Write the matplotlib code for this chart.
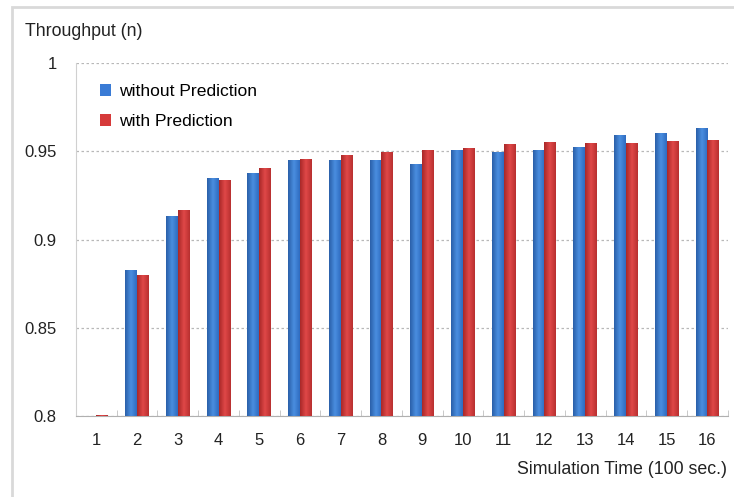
import numpy as np
import matplotlib
matplotlib.use("Agg")
import matplotlib.pyplot as plt
from matplotlib.patches import Rectangle
from matplotlib.colors import LinearSegmentedColormap

# data
times = [str(i) for i in range(1, 17)]
without_pred = [0.8000, 0.8830, 0.9136, 0.9347, 0.9375, 0.9450, 0.9450, 0.9450,
                0.9430, 0.9510, 0.9498, 0.9510, 0.9527, 0.9595, 0.9606, 0.9632]
with_pred = [0.8006, 0.8800, 0.9170, 0.9335, 0.9403, 0.9455, 0.9480, 0.9494,
             0.9506, 0.9520, 0.9541, 0.9553, 0.9550, 0.9550, 0.9557, 0.9562]

plt.rcParams["font.family"] = ["Liberation Sans", "DejaVu Sans"]

fig = plt.figure(figsize=(7.34, 4.97), dpi=100)
ax = fig.add_axes([0.1035, 0.163, 0.888, 0.71])

# chart frame (light grey border like an Excel chart area)
fig.patches.append(Rectangle((12 / 734, -0.05), 1.0, 1 - 7 / 497 + 0.05,
                             transform=fig.transFigure, fill=False,
                             edgecolor="#d9d9d9", linewidth=2.0, zorder=0))

x = np.arange(len(times))
w = 0.29
blue_cmap = LinearSegmentedColormap.from_list("b", ["#2a5fa8", "#4a8ee0", "#2f6cc0"])
red_cmap = LinearSegmentedColormap.from_list("r", ["#a82828", "#e04848", "#b83030"])

def shaded_bars(xpos, vals, base_color, cmap):
    bars = ax.bar(xpos, np.array(vals) - 0.8, w, bottom=0.8, color=base_color,
                  linewidth=0, zorder=2)
    grad = np.linspace(0, 1, 64).reshape(1, -1)
    for b in bars:
        x0, y0 = b.get_x(), b.get_y()
        im = ax.imshow(grad, cmap=cmap, aspect="auto", zorder=3,
                       extent=[x0, x0 + b.get_width(), y0, y0 + b.get_height()])
        im.set_clip_path(b)
    return bars

hb = shaded_bars(x - w / 2, without_pred, "#3a7bd5", blue_cmap)
hr = shaded_bars(x + w / 2, with_pred, "#d63a3a", red_cmap)

ax.set_xlim(-0.5, len(times) - 0.5)
ax.set_ylim(0.8, 1.0)
ax.set_yticks([0.8, 0.85, 0.9, 0.95, 1.0])
ax.set_yticklabels(["0.8", "0.85", "0.9", "0.95", "1"])
ax.set_xticks(x)
ax.set_xticklabels(times)
ax.set_xticks(np.arange(-0.5, len(times)), minor=True)
ax.tick_params(axis="x", which="major", length=0, pad=12, labelsize=12, colors="#222222")
ax.tick_params(axis="x", which="minor", length=4, color="#c0c0c0", direction="in")
ax.tick_params(axis="y", length=0, pad=14, labelsize=12, colors="#222222")

ax.yaxis.grid(True, linestyle=(0, (2, 2)), color="#b8b8b8", linewidth=0.9)
ax.set_axisbelow(True)
for side in ("top", "right"):
    ax.spines[side].set_visible(False)
ax.spines["left"].set_color("#d0d0d0")
ax.spines["bottom"].set_color("#b0b0b0")
ax.set_xlim(-0.5, len(times) - 0.5)
ax.set_ylim(0.8, 1.0)

fig.text(25 / 734, 1 - 32 / 497, "Throughput (n)", fontsize=12.8, color="#222222",
         va="center", ha="left")
fig.text(727 / 734, 1 - 469 / 497, "Simulation Time (100 sec.)", fontsize=12.8,
         color="#222222", va="center", ha="right")

ax.legend([hb, hr], ["without Prediction", "with Prediction"], loc="upper left",
          bbox_to_anchor=(0.012, 0.985), frameon=False, fontsize=12.6,
          handlelength=0.65, handleheight=0.65, handletextpad=0.45, labelspacing=0.85)

fig.savefig("out.png", dpi=100)
